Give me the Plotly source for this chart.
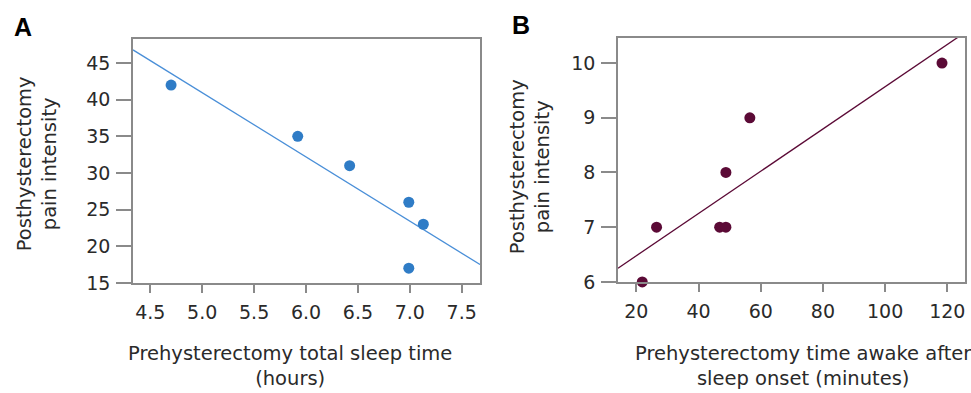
import plotly.graph_objects as go

# ---- data ----
sleep_hours = [4.70, 5.92, 6.42, 6.99, 7.13, 6.99]
pain_a = [42, 35, 31, 26, 23, 17]
fit_a_x = [4.333, 7.676]
fit_a_y = [46.8, 17.5]

waso_min = [21.9, 26.5, 46.8, 48.8, 48.8, 56.5, 118.3]
pain_b = [6, 7, 7, 7, 8, 9, 10]
fit_b_x = [14.1, 125.7]
fit_b_y = [6.25, 10.56]

a_xticks = [4.5, 5.0, 5.5, 6.0, 6.5, 7.0, 7.5]
a_yticks = [15, 20, 25, 30, 35, 40, 45]
b_xticks = [20, 40, 60, 80, 100, 120]
b_yticks = [6, 7, 8, 9, 10]

W, H = 971, 393
BLUE = "#2f7cc6"
BLUE_LINE = "#4a8fd8"
MAROON = "#5b0a36"
FRAME = "#8a8a8a"
TXT = "#2a2a2a"
FONT = "DejaVu Sans"

def px(x):
    return x / W

def py(y):
    return 1 - y / H

fig = go.Figure()
fig.add_trace(go.Scatter(x=fit_a_x, y=fit_a_y, mode="lines",
                         line=dict(color=BLUE_LINE, width=1.3),
                         xaxis="x", yaxis="y", showlegend=False, hoverinfo="skip"))
fig.add_trace(go.Scatter(x=sleep_hours, y=pain_a, mode="markers",
                         marker=dict(color=BLUE, size=11),
                         xaxis="x", yaxis="y", showlegend=False, cliponaxis=False))
fig.add_trace(go.Scatter(x=fit_b_x, y=fit_b_y, mode="lines",
                         line=dict(color=MAROON, width=1.3),
                         xaxis="x2", yaxis="y2", showlegend=False, hoverinfo="skip"))
fig.add_trace(go.Scatter(x=waso_min, y=pain_b, mode="markers",
                         marker=dict(color=MAROON, size=11),
                         xaxis="x2", yaxis="y2", showlegend=False, cliponaxis=False))

axis_common = dict(showline=True, mirror=True, linecolor=FRAME, linewidth=1.6,
                   ticks="outside", tickcolor=FRAME, tickwidth=1.6,
                   showgrid=False, zeroline=False,
                   tickfont=dict(family=FONT, size=19, color=TXT))

fig.update_layout(
    width=W, height=H,
    margin=dict(l=0, r=0, t=0, b=0),
    paper_bgcolor="white", plot_bgcolor="white",
    xaxis=dict(domain=[px(133), px(480)], range=[4.333, 7.676],
               tickvals=a_xticks, tickformat=".1f", ticklen=8,
               ticklabelstandoff=4, anchor="y", **axis_common),
    yaxis=dict(domain=[py(291), py(40)], range=[15, 48.3],
               tickvals=a_yticks, ticklen=15, ticklabelstandoff=2,
               anchor="x", **axis_common),
    xaxis2=dict(domain=[px(618), px(965)], range=[14.1, 125.7],
                tickvals=b_xticks, ticklen=8, ticklabelstandoff=4,
                anchor="y2", **axis_common),
    yaxis2=dict(domain=[py(290), py(39)], range=[6, 10.46],
                tickvals=b_yticks, ticklen=15, ticklabelstandoff=2,
                anchor="x2", **axis_common),
)

title_font = dict(family=FONT, size=19.5, color=TXT)
ann = [
    dict(text="<b>A</b>", x=px(23), y=py(28), font=dict(family="Liberation Sans", size=25, color="black")),
    dict(text="<b>B</b>", x=px(521), y=py(26), font=dict(family="Liberation Sans", size=25, color="black")),
    dict(text="Prehysterectomy total sleep time<br>(hours)", x=px(290), y=py(377), font=title_font),
    dict(text="Prehysterectomy time awake after<br>sleep onset (minutes)", x=px(803), y=py(377), font=title_font),
    dict(text="Posthysterectomy<br>pain intensity", x=px(37), y=py(169), textangle=-90, font=title_font),
    dict(text="Posthysterectomy<br>pain intensity", x=px(530), y=py(172), textangle=-90, font=title_font),
]
for a in ann:
    fig.add_annotation(xref="paper", yref="paper", showarrow=False,
                       xanchor="center", yanchor="middle", **a)

fig.write_html("out.html", config={"displayModeBar": False},
               post_script="document.body.style.margin='0';document.body.style.overflow='hidden';")
